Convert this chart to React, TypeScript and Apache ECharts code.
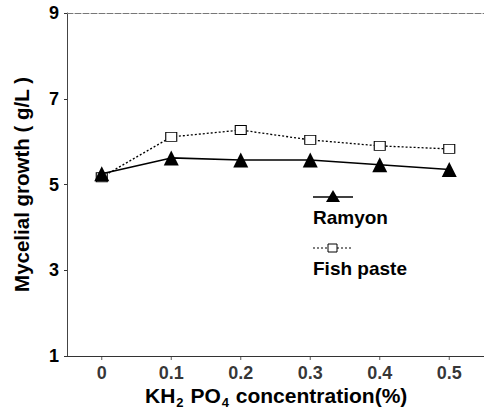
import React, { useEffect, useRef } from "react";
import * as echarts from "echarts";

const concentrations = [0, 0.1, 0.2, 0.3, 0.4, 0.5];
const ramyon = [5.25, 5.62, 5.57, 5.57, 5.46, 5.35];
const fishPaste = [5.17, 6.11, 6.27, 6.04, 5.9, 5.83];
const yTicks = [1, 3, 5, 7, 9];

export default function App() {
  const ref = useRef<HTMLDivElement>(null);
  useEffect(() => {
    const chart = echarts.init(ref.current!, null, { renderer: "svg" });
    const font = "Liberation Sans, Arial, sans-serif";
    chart.setOption({
      animation: false,
      backgroundColor: "#fff",
      grid: { left: 67, right: 0, top: 13, bottom: 58 },
      xAxis: [
        {
          type: "value",
          min: -0.05,
          max: 0.55,
          interval: 0.05,
          axisLine: { show: true, onZero: false, lineStyle: { color: "#333", width: 1 } },
          axisTick: { show: false },
          splitLine: { show: false },
          axisLabel: { show: false },
        },
        {
          type: "value",
          position: "top",
          min: -0.05,
          max: 0.55,
          axisLine: { show: true, onZero: false, lineStyle: { color: "#777", width: 1, type: [6, 2] } },
          axisTick: { show: false },
          axisLabel: { show: false },
          splitLine: { show: false },
        },
      ],
      yAxis: {
        type: "value",
        min: 1,
        max: 9,
        interval: 2,
        axisLine: { show: true, onZero: false, lineStyle: { color: "#444", width: 1 } },
        axisTick: { show: true, length: 3, lineStyle: { color: "#333" } },
        splitLine: { show: false },
        axisLabel: {
          color: "#000",
          fontSize: 18,
          fontWeight: "bold",
          fontFamily: font,
          margin: 8,
          formatter: (v: number) => (yTicks.includes(v) ? String(v) : ""),
        },
        name: "Mycelial growth ( g/L )",
        nameLocation: "middle",
        nameGap: 35,
        nameTextStyle: { color: "#000", fontSize: 20.5, fontWeight: "bold", fontFamily: font },
      },
      graphic: [
        { type: "line", shape: { x1: 313, y1: 197, x2: 353, y2: 197 }, style: { stroke: "#000", lineWidth: 1.5 } },
        { type: "polygon", shape: { points: [[333, 190], [326, 202], [340, 202]] }, style: { fill: "#000" } },
        { type: "text", x: 313, y: 208, style: { text: "Ramyon", fontSize: 19, fontWeight: "bold", fontFamily: font, fill: "#000" } },
        { type: "line", shape: { x1: 313, y1: 248, x2: 352, y2: 248 }, style: { stroke: "#000", lineWidth: 1.2, lineDash: [2, 2] } },
        { type: "rect", shape: { x: 328, y: 244, width: 9, height: 8 }, style: { fill: "#fff", stroke: "#000", lineWidth: 1 } },
        { type: "text", x: 313, y: 259, style: { text: "Fish paste", fontSize: 19, fontWeight: "bold", fontFamily: font, fill: "#000" } },
        {
          type: "text",
          left: 145,
          top: 385,
          style: {
            text: "{a|KH}{s|2}{a| PO}{s|4}{a| concentration(%)}",
            rich: {
              a: { fontSize: 21, fontWeight: "bold", fontFamily: font, fill: "#000" },
              s: { fontSize: 13, fontWeight: "bold", fontFamily: font, fill: "#000", padding: [13, 1, 0, 1] },
            },
          },
        },
      ],
      series: [
        {
          name: "Ramyon",
          type: "line",
          data: concentrations.map((c, i) => [c, ramyon[i]]),
          symbol: "triangle",
          symbolSize: 15,
          lineStyle: { color: "#000", width: 1.6 },
          itemStyle: { color: "#000" },
          z: 3,
        },
        {
          name: "Fish paste",
          type: "line",
          data: concentrations.map((c, i) => [c, fishPaste[i]]),
          symbol: "rect",
          symbolSize: [11, 9],
          lineStyle: { color: "#000", width: 1.3, type: [2, 2] },
          itemStyle: { color: "#fff", borderColor: "#000", borderWidth: 1 },
          z: 2,
        },
        {
          name: "ticks",
          type: "scatter",
          data: concentrations.map((c) => [c, 1]),
          symbol: "rect",
          symbolSize: [1, 4],
          symbolOffset: [0, 2],
          itemStyle: { color: "#333" },
          label: {
            show: true,
            position: "bottom",
            distance: 4,
            formatter: (p: any) => String(p.value[0]),
            color: "#000",
            fontSize: 18,
            fontWeight: "bold",
            fontFamily: font,
          },
          silent: true,
          clip: false,
        },
      ],
    });
    return () => chart.dispose();
  }, []);
  return <div ref={ref} style={{ width: 484, height: 414, position: "absolute", left: 0, top: 0 }} />;
}
